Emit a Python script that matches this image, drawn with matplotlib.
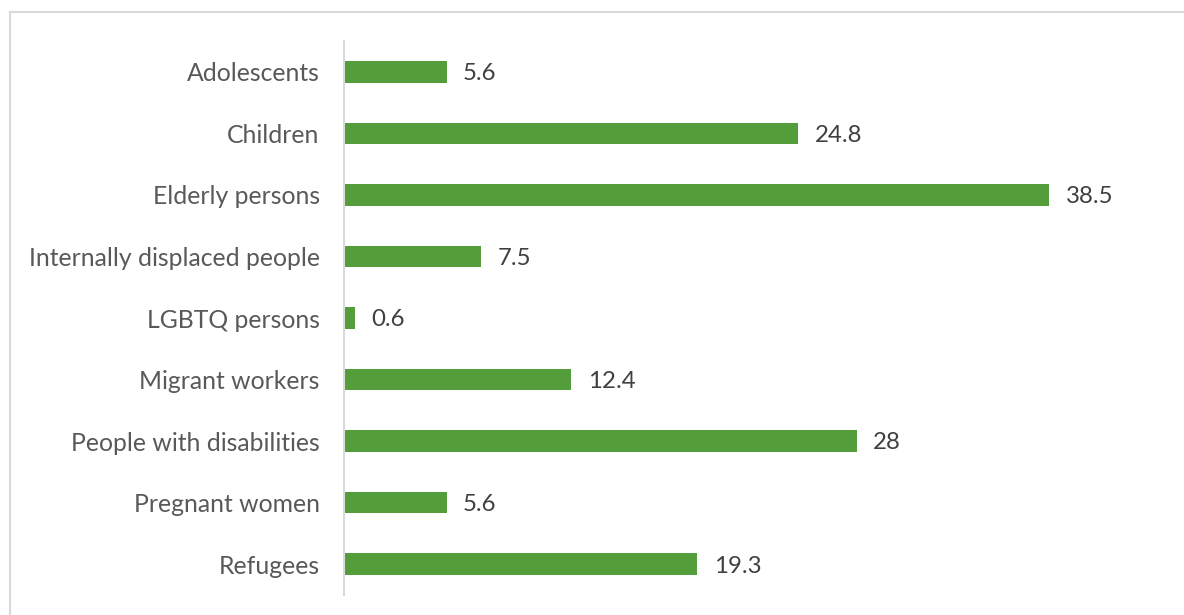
import matplotlib.pyplot as plt
from matplotlib.patches import Rectangle

categories = [
    "Adolescents",
    "Children",
    "Elderly persons",
    "Internally displaced people",
    "LGBTQ persons",
    "Migrant workers",
    "People with disabilities",
    "Pregnant women",
    "Refugees",
]
values = [5.6, 24.8, 38.5, 7.5, 0.6, 12.4, 28, 5.6, 19.3]
value_labels = ["5.6", "24.8", "38.5", "7.5", "0.6", "12.4", "28", "5.6", "19.3"]

W, H = 1184, 615
fig = plt.figure(figsize=(W / 100, H / 100), dpi=100)
fig.patch.set_facecolor("white")

# chart frame (open to the right and bottom)
fig.patches.append(Rectangle((9.5 / W, -0.05), 1.2, 1 - 12.5 / H + 0.05,
                             transform=fig.transFigure, fill=False,
                             edgecolor="#d9d9d9", linewidth=1.5))

left, right = 344 / W, 1076.6 / W
bottom, top = 1 - 595 / H, 1 - 41 / H
ax = fig.add_axes([left, bottom, right - left, top - bottom])

y = list(range(len(categories)))
ax.barh(y, values, height=0.35, color="#539e3a", edgecolor="none")
ax.set_xlim(0, 40)
ax.set_ylim(len(categories) - 0.5, -0.5)

font = "Lato"
for yi, v, lab in zip(y, values, value_labels):
    ax.text(v + 0.9, yi + 0.03, lab, va="center", ha="left", fontsize=17.3,
            color="#404040", family=font)

ax.set_yticks(y)
ax.set_yticklabels(categories, fontsize=17.8, color="#595959", family=font)
ax.tick_params(axis="y", length=0, pad=17.5)
ax.set_xticks([])

for s in ["top", "right", "bottom"]:
    ax.spines[s].set_visible(False)
ax.spines["left"].set_color("#d9d9d9")
ax.spines["left"].set_linewidth(1.5)

fig.savefig("out.png", dpi=100, facecolor="white")
